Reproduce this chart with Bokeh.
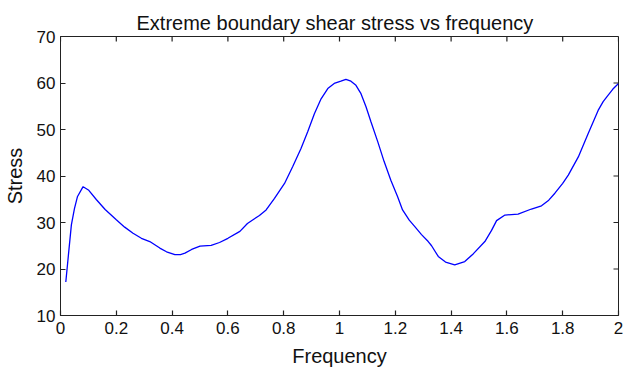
import math
from bokeh.plotting import figure
from bokeh.models import FixedTicker, Range1d
from bokeh.embed import file_html
from bokeh.resources import INLINE

freq = [0.019, 0.03, 0.039, 0.05, 0.061, 0.081, 0.1, 0.129, 0.16, 0.2, 0.23,
        0.26, 0.29, 0.32, 0.356, 0.38, 0.41, 0.43, 0.446, 0.47, 0.5, 0.54,
        0.57, 0.6, 0.643, 0.67, 0.69, 0.713, 0.737, 0.767, 0.803, 0.832,
        0.862, 0.886, 0.91, 0.934, 0.958, 0.981, 1.005, 1.023, 1.041, 1.059,
        1.077, 1.095, 1.113, 1.137, 1.16, 1.184, 1.208, 1.226, 1.25, 1.27,
        1.294, 1.318, 1.33, 1.354, 1.38, 1.413, 1.449, 1.48, 1.521, 1.545,
        1.563, 1.593, 1.64, 1.688, 1.724, 1.75, 1.772, 1.8, 1.82, 1.856,
        1.891, 1.927, 1.945, 1.963, 1.98, 2.0]
stress = [17.2, 24.0, 29.5, 33.0, 35.6, 37.7, 37.0, 34.9, 32.8, 30.6, 29.0,
          27.7, 26.6, 25.9, 24.5, 23.7, 23.1, 23.1, 23.4, 24.2, 24.9, 25.1,
          25.7, 26.6, 28.1, 29.8, 30.6, 31.5, 32.7, 35.2, 38.4, 42.0,
          45.9, 49.5, 53.4, 56.6, 58.8, 59.9, 60.4, 60.8, 60.4, 59.5,
          57.7, 54.9, 51.6, 47.4, 43.1, 39.1, 35.6, 32.7, 30.5, 29.1,
          27.4, 25.9, 25.0, 22.7, 21.5, 20.9, 21.6, 23.3, 25.9, 28.3,
          30.4, 31.6, 31.8, 32.9, 33.6, 34.8, 36.3, 38.4, 40.2, 44.1,
          49.1, 54.1, 56.0, 57.4, 58.7, 59.9]

x_ticks = [0, 0.2, 0.4, 0.6, 0.8, 1, 1.2, 1.4, 1.6, 1.8, 2]
x_tick_labels = ["0", "0.2", "0.4", "0.6", "0.8", "1", "1.2", "1.4", "1.6", "1.8", "2"]
y_ticks = [10, 20, 30, 40, 50, 60, 70]
y_tick_labels = ["10", "20", "30", "40", "50", "60", "70"]

FONT = "Liberation Sans"
INK = "#222222"

p = figure(width=625, height=374, output_backend="svg", toolbar_location=None,
           x_range=Range1d(x_ticks[0], x_ticks[-1]),
           y_range=Range1d(y_ticks[0], y_ticks[-1]),
           title="Extreme boundary shear stress vs frequency",
           min_border_left=59, min_border_right=7, min_border_top=36,
           min_border_bottom=59, x_axis_label="Frequency", y_axis_label="Stress")

p.line(freq, stress, line_color="#0000ff", line_width=1.3)

# mirrored inward ticks on the top and right edges of the box
p.ray(x=x_ticks, y=[y_ticks[-1]] * len(x_ticks), length=5, length_units="screen",
      angle=-math.pi / 2, line_color=INK, line_width=1.2)
p.ray(x=[x_ticks[-1]] * len(y_ticks), y=y_ticks, length=5, length_units="screen",
      angle=math.pi, line_color=INK, line_width=1.2)

p.title.align = "left"
p.title.offset = 76
p.title.text_font = FONT
p.title.text_font_size = "20px"
p.title.text_font_style = "normal"
p.title.text_color = "#111111"
p.title.standoff = 6

p.grid.visible = False
p.outline_line_color = INK
p.outline_line_width = 1
p.background_fill_color = "white"
p.border_fill_color = "white"

p.xaxis.ticker = FixedTicker(ticks=x_ticks)
p.yaxis.ticker = FixedTicker(ticks=y_ticks)
p.xaxis.major_label_overrides = {float(t): l for t, l in zip(x_ticks, x_tick_labels)}
p.yaxis.major_label_overrides = {float(t): l for t, l in zip(y_ticks, y_tick_labels)}

for ax in (p.xaxis[0], p.yaxis[0]):
    ax.major_tick_in = 5
    ax.major_tick_out = 0
    ax.minor_tick_in = 0
    ax.minor_tick_out = 0
    ax.axis_line_color = INK
    ax.major_tick_line_color = INK
    ax.major_tick_line_width = 1.2
    ax.major_label_text_font = FONT
    ax.major_label_text_font_size = "17px"
    ax.major_label_text_color = "#111111"
    ax.axis_label_text_font = FONT
    ax.axis_label_text_font_size = "20px"
    ax.axis_label_text_font_style = "normal"
    ax.axis_label_text_color = "#111111"

p.xaxis.major_label_standoff = 6
p.yaxis.major_label_standoff = 5
p.xaxis.axis_label_standoff = 8
p.yaxis.axis_label_standoff = 8

open("out.html", "w").write(file_html(p, INLINE))
